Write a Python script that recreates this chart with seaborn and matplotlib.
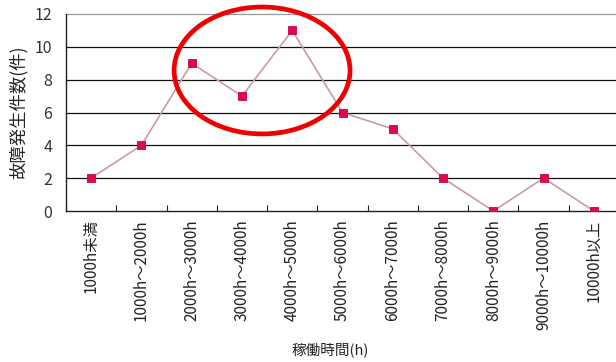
import matplotlib
matplotlib.use("Agg")
import matplotlib.pyplot as plt
from matplotlib.patches import Ellipse
import seaborn as sns
import pandas as pd

# Operating-hour bins and number of failures in each bin
categories = ["1000h未満", "1000h～2000h", "2000h～3000h", "3000h～4000h",
              "4000h～5000h", "5000h～6000h", "6000h～7000h", "7000h～8000h",
              "8000h～9000h", "9000h～10000h", "10000h以上"]
failures = [2, 4, 9, 7, 11, 6, 5, 2, 0, 2, 0]
y_ticks = [0, 2, 4, 6, 8, 10, 12]

sns.set_theme(style="white")
plt.rcParams["font.family"] = ["Noto Sans CJK JP", "DejaVu Sans"]

df = pd.DataFrame({"bin": categories, "count": failures})

fig = plt.figure(figsize=(6.16, 3.62), dpi=100)
ax = fig.add_axes([66 / 616, 151 / 362, 553 / 616, 197 / 362])

sns.lineplot(data=df, x="bin", y="count", ax=ax, sort=False,
             color="#c99aa8", linewidth=1.2, marker="s", markersize=5.8,
             markerfacecolor="#e0064f", markeredgecolor="#c8004a",
             markeredgewidth=0.6, zorder=3)

ax.set_xlim(-0.5, len(categories) - 0.5)
ax.set_ylim(0, 12)
ax.set_yticks(y_ticks)
ax.set_yticklabels([str(v) for v in y_ticks], fontsize=11.5, color="#333333")
ax.tick_params(axis="y", length=0, pad=10)

# Category labels rotated, boundary ticks pointing inward
ax.set_xticks(range(len(categories)))
ax.set_xticklabels(categories, rotation=90, fontsize=11, va="top", ha="center",
                   color="#222222")
ax.tick_params(axis="x", which="major", length=0, pad=6)
ax.set_xticks([i - 0.5 for i in range(len(categories) + 1)], minor=True)
ax.tick_params(axis="x", which="minor", direction="in", length=4,
               width=0.8, color="#222222", bottom=True)

# Horizontal gridlines
for v in y_ticks[1:-1]:
    ax.axhline(v, color="#111111", linewidth=0.9, zorder=1)
ax.axhline(12, color="#999999", linewidth=0.9, zorder=1, clip_on=False)

for side in ["top", "right"]:
    ax.spines[side].set_visible(False)
ax.spines["left"].set_color("#222222")
ax.spines["bottom"].set_color("#222222")
ax.spines["left"].set_linewidth(1.0)
ax.spines["bottom"].set_linewidth(1.0)

ax.set_xlabel("")
ax.set_ylabel("")
fig.text(18 / 616, 1 - 112 / 362, "故障発生件数(件)", rotation=90,
         ha="center", va="center", fontsize=12.5, color="#222222")
fig.text(330 / 616, 1 - 350 / 362, "稼働時間(h)", ha="center", va="center",
         fontsize=10.5, color="#222222")

# Highlight the peak region
ax.add_patch(Ellipse((3.40, 8.56), width=3.50, height=7.73, fill=False,
                     edgecolor="#ee0000", linewidth=3.4, clip_on=False,
                     zorder=4))

fig.savefig("out.png", dpi=100, facecolor="white")
